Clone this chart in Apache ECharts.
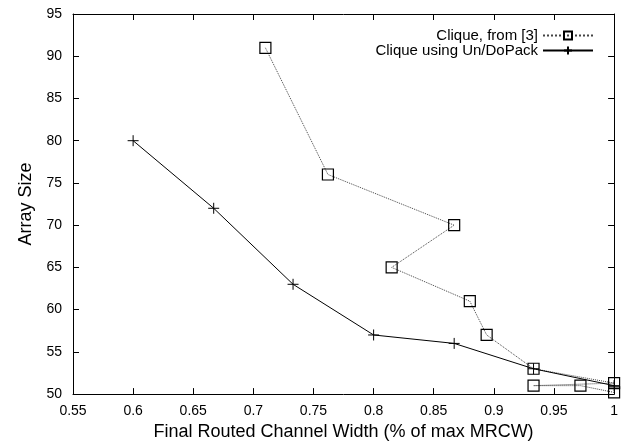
<!DOCTYPE html>
<html>
<head>
<meta charset="utf-8">
<script src="https://cdn.jsdelivr.net/npm/echarts@6/dist/echarts.min.js"></script>
<style>
html,body{margin:0;padding:0;background:#fff;}
#chart{width:621px;height:446px;}
</style>
</head>
<body>
<div id="chart"></div>
<script>
// Data
const cliqueFrom3X = [0.710, 0.762, 0.867, 0.815, 0.880, 0.894, 0.933, 1.000, 0.933, 0.972, 1.000];
const cliqueFrom3Y = [91, 76, 70, 65, 61, 57, 53, 51.3, 51, 51, 50.2];
const unDoPackX = [0.600, 0.667, 0.733, 0.800, 0.867, 0.933, 1.000];
const unDoPackY = [80, 72, 63, 57, 56, 53, 51];
const seriesNames = ['Clique, from [3]', 'Clique using Un/DoPack'];
const xTitle = 'Final Routed Channel Width (% of max MRCW)';
const yTitle = 'Array Size';

const zip = (xs, ys) => xs.map((x, i) => [x, ys[i]]);
const font = 'Liberation Sans, Arial, Helvetica, sans-serif';
const plusPath = 'path://M0,5L10,5M5,0L5,10';
const boxPath = 'path://M0,0L10,0L10,10L0,10Z';

const chart = echarts.init(document.getElementById('chart'));
const axisCommon = {
  type: 'value',
  axisLine: { show: true, lineStyle: { color: '#000', width: 1 } },
  axisTick: { show: true, inside: true, length: 6, lineStyle: { color: '#000' } },
  splitLine: { show: false }
};
chart.setOption({
  animation: false,
  grid: { left: 73, right: 4, top: 14, bottom: 50, containLabel: false },
  legend: {
    right: 22, top: 23, orient: 'vertical', align: 'right',
    itemWidth: 50, itemHeight: 10, itemGap: 0,
    textStyle: { fontFamily: font, fontSize: 15, color: '#000' },
    data: seriesNames
  },
  xAxis: [
    Object.assign({}, axisCommon, {
      position: 'bottom', min: 0.55, max: 1, interval: 0.05,
      name: xTitle, nameLocation: 'middle', nameGap: 27,
      nameTextStyle: { fontFamily: font, fontSize: 18, color: '#000' },
      axisLabel: { fontFamily: font, fontSize: 14, color: '#000', margin: 10 }
    }),
    Object.assign({}, axisCommon, {
      position: 'top', min: 0.55, max: 1, interval: 0.05,
      axisLabel: { show: false }
    })
  ],
  yAxis: [
    Object.assign({}, axisCommon, {
      position: 'left', min: 50, max: 95, interval: 5,
      name: yTitle, nameLocation: 'middle', nameGap: 37, nameRotate: 90,
      nameTextStyle: { fontFamily: font, fontSize: 18, color: '#000' },
      axisLabel: { fontFamily: font, fontSize: 14, color: '#000', margin: 11 }
    }),
    Object.assign({}, axisCommon, {
      position: 'right', min: 50, max: 95, interval: 5,
      axisLabel: { show: false }
    })
  ],
  series: [
    {
      name: seriesNames[0], type: 'line', data: zip(cliqueFrom3X, cliqueFrom3Y),
      symbol: boxPath, symbolSize: 11,
      lineStyle: { color: '#444', width: 1, type: 'dotted' },
      itemStyle: { color: 'rgba(255,255,255,0)', borderColor: '#000', borderWidth: 1.2 }
    },
    {
      name: seriesNames[1], type: 'line', data: zip(unDoPackX, unDoPackY),
      symbol: plusPath, symbolSize: 11,
      lineStyle: { color: '#000', width: 1 },
      itemStyle: { color: 'rgba(0,0,0,0)', borderColor: '#000', borderWidth: 1 }
    }
  ]
});
</script>
</body>
</html>
